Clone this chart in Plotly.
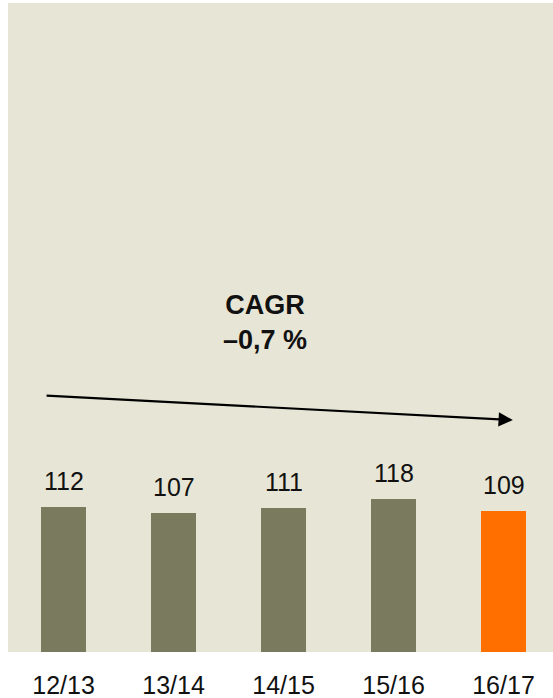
import plotly.graph_objects as go

categories = ["12/13", "13/14", "14/15", "15/16", "16/17"]
values = [112, 107, 111, 118, 109]
bar_colors = ["#7A7A5E", "#7A7A5E", "#7A7A5E", "#7A7A5E", "#FF6F00"]
cagr_text = "<b>CAGR<br>–0,7 %</b>"

x_idx = list(range(len(categories)))

fig = go.Figure()
fig.add_trace(go.Bar(
    x=x_idx, y=values, marker=dict(color=bar_colors, line=dict(width=0)),
    width=0.41, hoverinfo="skip",
))

for xi, v in zip(x_idx, values):
    fig.add_annotation(x=xi, y=v, text=str(v), showarrow=False,
                       yanchor="bottom", yshift=10,
                       font=dict(family="Liberation Sans, Arial", size=25, color="#111111"))

fig.add_annotation(x=1.83, y=(652 - 323) / 1.295, text=cagr_text, showarrow=False,
                   xanchor="center", yanchor="middle",
                   font=dict(family="Liberation Sans, Arial", size=27, color="#111111"))

fig.add_annotation(x=4.085, y=179, ax=-0.168, ay=198, xref="x", yref="y",
                   axref="x", ayref="y", text="", showarrow=True,
                   arrowhead=2, arrowsize=1.3, arrowwidth=2.2, arrowcolor="#000000")

fig.update_layout(
    width=553, height=698,
    margin=dict(l=8, r=0, t=3, b=46),
    paper_bgcolor="#FFFFFF", plot_bgcolor="#E7E6D6",
    showlegend=False, bargap=0,
)
fig.update_xaxes(range=[-0.505, 4.45], tickmode="array", tickvals=x_idx, ticktext=categories,
                 showgrid=False, zeroline=False, showline=False, automargin=False,
                 ticks="outside", ticklen=11, tickcolor="rgba(0,0,0,0)",
                 tickfont=dict(family="Liberation Sans, Arial", size=25, color="#111111"))
fig.update_yaxes(range=[0, 501], visible=False, showgrid=False, zeroline=False, automargin=False)

fig.write_html("out.html", config={"displayModeBar": False},
               post_script="document.body.style.margin='0';document.body.style.overflow='hidden';")
